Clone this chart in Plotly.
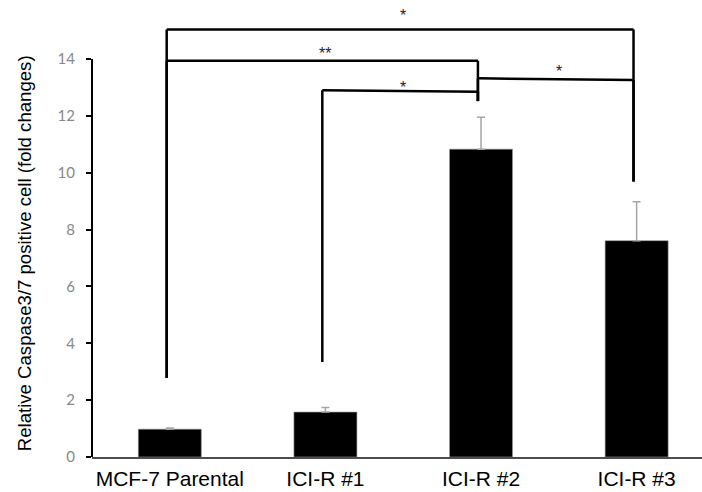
import plotly.graph_objects as go

# ---- data ----
categories = ["MCF-7 Parental", "ICI-R #1", "ICI-R #2", "ICI-R #3"]
values = [0.98, 1.58, 10.83, 7.61]
errors = [0.04, 0.16, 1.12, 1.37]
y_ticks = [0, 2, 4, 6, 8, 10, 12, 14]

# significance brackets (category index pairs)
bracket_left = [0, 0, 1, 2]
bracket_right = [3, 2, 2, 3]
bracket_height_left = [15.04, 13.94, 12.90, 13.32]
bracket_height_right = [15.04, 13.94, 12.85, 13.26]
bracket_labels = ["*", "**", "*", "*"]
bracket_label_y = [15.70, 14.38, 13.19, 13.73]
# lower end of the vertical drop line above each bar
bracket_floor = [2.78, 3.34, 12.52, 9.69]

Y_MAX = 15.9
xpos = list(range(len(categories)))

fig = go.Figure()
fig.add_trace(go.Bar(
    x=xpos, y=values, width=0.405,
    marker=dict(color="black", line=dict(color="#9a9a9a", width=0.6)),
    error_y=dict(type="data", array=errors, arrayminus=[0] * len(errors),
                 symmetric=False, color="#a6a6a6", thickness=1.5, width=4),
    showlegend=False,
))

shapes = []
off = -0.02
LW = 2.5
for i in range(len(bracket_left)):
    a, b = bracket_left[i], bracket_right[i]
    ha, hb = bracket_height_left[i], bracket_height_right[i]
    shapes.append(dict(type="line", xref="x", yref="y", x0=a + off, x1=b + off,
                       y0=ha, y1=hb, line=dict(color="black", width=LW)))
    shapes.append(dict(type="line", xref="x", yref="y", x0=a + off, x1=a + off,
                       y0=ha, y1=bracket_floor[a], line=dict(color="black", width=LW)))
    shapes.append(dict(type="line", xref="x", yref="y", x0=b + off, x1=b + off,
                       y0=hb, y1=bracket_floor[b], line=dict(color="black", width=LW)))
# y axis line drawn only up to the top tick
shapes.append(dict(type="line", xref="paper", yref="paper", x0=0, x1=0,
                   y0=y_ticks[0] / Y_MAX, y1=y_ticks[-1] / Y_MAX,
                   line=dict(color="black", width=2)))

annotations = []
for i in range(len(bracket_labels)):
    annotations.append(dict(
        x=(bracket_left[i] + bracket_right[i]) / 2, y=bracket_label_y[i],
        xref="x", yref="y", text=bracket_labels[i], showarrow=False,
        yshift=-5, font=dict(family="Liberation Sans", size=16, color="#222"),
    ))
annotations.append(dict(
    x=0, xref="paper", xshift=-80, y=7.15, yref="y",
    text="Relative Caspase3/7 positive cell (fold changes)", textangle=-90,
    showarrow=False, font=dict(family="Liberation Sans", size=18.6, color="black"),
))

fig.update_layout(
    width=702, height=492,
    margin=dict(l=91.6, r=0, t=4.9, b=34.7),
    paper_bgcolor="white", plot_bgcolor="white",
    shapes=shapes, annotations=annotations,
    xaxis=dict(range=[-0.5, 3.42], tickvals=xpos, ticktext=categories,
               showline=True, linecolor="#4d4d4d", linewidth=1.5,
               ticks="", showgrid=False, zeroline=False, ticklabelstandoff=2,
               tickfont=dict(family="Liberation Sans", size=21, color="black")),
    yaxis=dict(range=[0, Y_MAX], tickvals=y_ticks, ticks="outside", ticklen=5,
               tickwidth=1.5, tickcolor="black", showline=False, showgrid=False,
               zeroline=False, ticklabelstandoff=8,
               tickfont=dict(family="Lato", size=15, color="#888888")),
)

fig.write_html("out.html")
